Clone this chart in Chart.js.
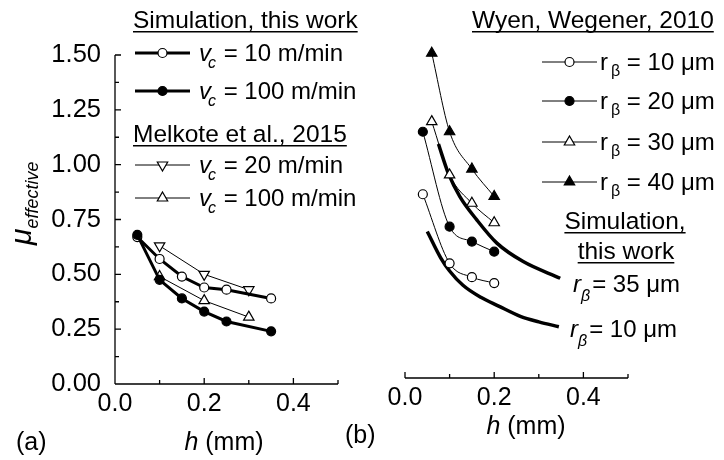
<!DOCTYPE html>
<html>
<head>
<meta charset="utf-8">
<script src="https://cdn.jsdelivr.net/npm/chart.js@4.4.1/dist/chart.umd.min.js"></script>
<style>
  body { margin: 0; background: #fff; }
  #wrap { position: relative; width: 724px; height: 460px; background: #fff; }
  canvas { position: absolute; top: 0; }
  #chartA { left: 0; }
  #chartB { left: 340px; }
</style>
</head>
<body>
<div id="wrap">
  <canvas id="chartA" width="370" height="460"></canvas>
  <canvas id="chartB" width="384" height="460"></canvas>
</div>
<script>
// ---- panel (a): simulation vs Melkote et al.
const hSim = [0.05, 0.10, 0.15, 0.20, 0.25, 0.35];
const muSim10 = [0.67, 0.57, 0.49, 0.44, 0.43, 0.39];
const muSim100 = [0.68, 0.475, 0.39, 0.33, 0.285, 0.24];
const hMelkote = [0.10, 0.20, 0.30];
const muMelkote20 = [0.63, 0.50, 0.43];
const muMelkote100 = [0.49, 0.38, 0.305];

// ---- panel (b): Wyen & Wegener vs simulation
const hWyenA = [0.04, 0.10, 0.15, 0.20];
const hWyenB = [0.06, 0.10, 0.15, 0.20];
const muWyen10 = [0.865, 0.55, 0.487, 0.46];
const muWyen20 = [1.15, 0.717, 0.649, 0.603];
const muWyen30 = [1.196, 0.953, 0.824, 0.735];
const muWyen40 = [1.508, 1.15, 0.98, 0.855];
const hSimR35 = [0.075, 0.097, 0.123, 0.161, 0.206, 0.265, 0.348];
const muSimR35 = [1.094, 0.961, 0.854, 0.748, 0.642, 0.558, 0.482];
const hSimR10 = [0.05, 0.08, 0.10, 0.13, 0.17, 0.21, 0.26, 0.30, 0.345];
const muSimR10 = [0.695, 0.575, 0.515, 0.45, 0.395, 0.355, 0.307, 0.283, 0.261];

// ---- axis ticks
const xLabelTicks = [0, 0.2, 0.4];
const xMinorTicks = [0.1, 0.3, 0.5];
const yLabelTicks = [0, 0.25, 0.5, 0.75, 1.0, 1.25, 1.5];
const yMinorTicks = [0.125, 0.375, 0.625, 0.875, 1.125, 1.375];

const FONT = 'Arial, "Liberation Sans", Helvetica, sans-serif';
Chart.defaults.font.family = FONT;
Chart.defaults.color = '#000';

function pts(xs, ys) {
    return xs.map((x, i) => ({ x: x, y: ys[i] }));
}

// draws a run of text pieces (italic / subscript) one after the other
function drawRich(ctx, x, y, parts) {
    let cx = x;
    parts.forEach(p => {
        ctx.font = (p.it ? 'italic ' : '') + (p.size || 24) + 'px ' + FONT;
        cx += (p.dx || 0);
        ctx.fillText(p.t, cx, y + (p.dy || 0));
        cx += ctx.measureText(p.t).width;
    });
    return cx;
}

function richWidth(ctx, parts) {
    let w = 0;
    parts.forEach(p => {
        ctx.font = (p.it ? 'italic ' : '') + (p.size || 24) + 'px ' + FONT;
        w += (p.dx || 0) + ctx.measureText(p.t).width;
    });
    return w;
}

function underlined(ctx, text, x, y, center) {
    ctx.font = '24.5px ' + FONT;
    const w = ctx.measureText(text).width;
    const x0 = center ? x - w / 2 : x;
    ctx.fillText(text, x0, y);
    ctx.fillRect(x0, y + 3, w, 1.5);
}

function drawMarker(ctx, style, x, y, r, filled, down) {
    ctx.beginPath();
    if (style === 'circle') {
        ctx.arc(x, y, r, 0, Math.PI * 2);
    } else {
        const d = down ? -1 : 1;
        ctx.moveTo(x, y - d * r);
        ctx.lineTo(x + r * 0.866, y + d * r * 0.5);
        ctx.lineTo(x - r * 0.866, y + d * r * 0.5);
        ctx.closePath();
    }
    ctx.fillStyle = filled ? '#000' : '#fff';
    ctx.fill();
    ctx.lineWidth = 1.2;
    ctx.strokeStyle = '#000';
    ctx.stroke();
    ctx.fillStyle = '#000';
}

function legendSample(ctx, x0, x1, y, lw, style, filled, down, r) {
    ctx.strokeStyle = '#000';
    ctx.lineWidth = lw;
    ctx.beginPath();
    ctx.moveTo(x0, y);
    ctx.lineTo(x1, y);
    ctx.stroke();
    drawMarker(ctx, style, (x0 + x1) / 2, y, r, filled, down);
}

// axis lines with inward ticks
const axesPlugin = {
    id: 'axesPlugin',
    beforeDatasetsDraw(chart, args, opts) {
        const ctx = chart.ctx, a = chart.chartArea;
        const xs = chart.scales.x, ys = chart.scales.y;
        ctx.save();
        ctx.strokeStyle = '#000';
        ctx.lineWidth = 1.3;
        ctx.beginPath();
        ctx.moveTo(a.left, a.bottom);
        ctx.lineTo(a.right, a.bottom);
        xLabelTicks.forEach(v => {
            const px = xs.getPixelForValue(v);
            ctx.moveTo(px, a.bottom);
            ctx.lineTo(px, a.bottom - 6);
        });
        xMinorTicks.forEach(v => {
            const px = xs.getPixelForValue(v);
            ctx.moveTo(px, a.bottom);
            ctx.lineTo(px, a.bottom - 4);
        });
        if (opts.yAxis) {
            ctx.moveTo(a.left, a.bottom);
            ctx.lineTo(a.left, a.top);
            yLabelTicks.forEach(v => {
                const py = ys.getPixelForValue(v);
                ctx.moveTo(a.left, py);
                ctx.lineTo(a.left + 6, py);
            });
            yMinorTicks.forEach(v => {
                const py = ys.getPixelForValue(v);
                ctx.moveTo(a.left, py);
                ctx.lineTo(a.left + 4, py);
            });
        }
        ctx.stroke();
        ctx.restore();
    },
    afterDraw(chart, args, opts) {
        const ctx = chart.ctx;
        ctx.save();
        ctx.translate(-opts.offsetX, 0);
        ctx.fillStyle = '#000';
        ctx.textBaseline = 'alphabetic';
        opts.extras(ctx);
        ctx.restore();
    }
};

function xAxisTitle(ctx, cx, y) {
    const parts = [{ t: 'h', it: true, size: 25 }, { t: ' (mm)', size: 25 }];
    drawRich(ctx, cx - richWidth(ctx, parts) / 2, y, parts);
}

function extrasA(ctx) {
    // y axis title
    ctx.save();
    ctx.translate(31, 245);
    ctx.rotate(-Math.PI / 2);
    drawRich(ctx, 0, 0, [{ t: 'μ', it: true, size: 30 }, { t: 'effective', it: true, size: 18, dy: 7 }]);
    ctx.restore();

    xAxisTitle(ctx, 224, 450);
    ctx.font = '25px ' + FONT;
    ctx.fillText('(a)', 16, 450);

    // legend
    const vc = (val) => [{ t: 'v', it: true }, { t: 'c', it: true, size: 16, dy: 7, dx: -3 }, { t: ' = ' + val + ' m/min', dx: 1 }];
    underlined(ctx, 'Simulation, this work', 133, 28);
    legendSample(ctx, 135, 190, 53, 3, 'circle', false, false, 4.5);
    drawRich(ctx, 199, 61, vc('10'));
    legendSample(ctx, 135, 190, 91, 3, 'circle', true, false, 4.5);
    drawRich(ctx, 199, 99, vc('100'));
    underlined(ctx, 'Melkote et al., 2015', 133, 142);
    legendSample(ctx, 135, 190, 165, 1, 'triangle', false, true, 6);
    drawRich(ctx, 199, 173, vc('20'));
    legendSample(ctx, 135, 190, 198, 1, 'triangle', false, false, 6);
    drawRich(ctx, 199, 206, vc('100'));
}

function extrasB(ctx) {
    xAxisTitle(ctx, 526, 434);
    ctx.font = '25px ' + FONT;
    ctx.fillText('(b)', 345, 443);

    const rb = (val) => [{ t: 'r' }, { t: 'β', size: 16, dy: 6, dx: 3 }, { t: ' = ' + val + ' μm', dx: 0 }];
    underlined(ctx, 'Wyen, Wegener, 2010', 472, 28);
    legendSample(ctx, 542, 597, 62, 1, 'circle', false, false, 4.5);
    drawRich(ctx, 600, 70, rb('10'));
    legendSample(ctx, 542, 597, 101, 1, 'circle', true, false, 4.5);
    drawRich(ctx, 600, 109, rb('20'));
    legendSample(ctx, 542, 597, 142, 1, 'triangle', false, false, 6);
    drawRich(ctx, 600, 150, rb('30'));
    legendSample(ctx, 542, 597, 182, 1, 'triangle', true, false, 6);
    drawRich(ctx, 600, 190, rb('40'));

    underlined(ctx, 'Simulation,', 625, 229, true);
    underlined(ctx, 'this work', 626, 259, true);
    const rbi = (val) => [{ t: 'r', it: true }, { t: 'β', it: true, size: 16, dy: 9, dx: 0 }, { t: '= ' + val + ' μm', dx: 2 }];
    drawRich(ctx, 573, 292, rbi('35'));
    drawRich(ctx, 570, 337, rbi('10'));
}

function xScale() {
    return {
        type: 'linear', min: 0, max: 0.5,
        grid: { display: false, drawTicks: false },
        border: { display: false },
        afterBuildTicks: s => { s.ticks = xLabelTicks.map(v => ({ value: v })); },
        ticks: { font: { size: 25 }, padding: 5, maxRotation: 0, callback: v => v.toFixed(1) }
    };
}

function series(xs, ys, lw, style, filled, down, r, curved, order) {
    return {
        data: pts(xs, ys),
        borderColor: '#000',
        borderWidth: lw,
        pointStyle: style,
        pointRotation: down ? 180 : 0,
        pointRadius: r,
        pointBorderWidth: 1.2,
        pointBorderColor: '#000',
        pointBackgroundColor: filled ? '#000' : '#fff',
        cubicInterpolationMode: curved ? 'monotone' : 'default',
        tension: 0,
        clip: false,
        order: order
    };
}

const baseOptions = {
    responsive: false,
    animation: false,
    events: [],
    plugins: { legend: { display: false }, tooltip: { enabled: false } }
};

// chart (a)
new Chart(document.getElementById('chartA'), {
    type: 'line',
    data: {
        datasets: [
            series(hSim, muSim100, 3, 'circle', true, false, 4.5, false, 0),
            series(hSim, muSim10, 3, 'circle', false, false, 4.5, false, 1),
            series(hMelkote, muMelkote100, 1, 'triangle', false, false, 6, false, 2),
            series(hMelkote, muMelkote20, 1, 'triangle', false, true, 6, false, 3)
        ]
    },
    options: Object.assign({}, baseOptions, {
        layout: { padding: { left: 0, top: 55, right: 32, bottom: 0 } },
        scales: {
            x: Object.assign(xScale(), { afterFit: s => { s.height = 76; } }),
            y: {
                type: 'linear', min: 0, max: 1.5,
                grid: { display: false, drawTicks: false },
                border: { display: false },
                afterBuildTicks: s => { s.ticks = yLabelTicks.map(v => ({ value: v })); },
                afterFit: s => { s.width = 115; },
                ticks: { font: { size: 25.5 }, padding: 14, callback: v => v.toFixed(2) }
            }
        },
        plugins: Object.assign({}, baseOptions.plugins, {
            axesPlugin: { yAxis: true, offsetX: 0, extras: extrasA }
        })
    }),
    plugins: [axesPlugin]
});

// chart (b)
new Chart(document.getElementById('chartB'), {
    type: 'line',
    data: {
        datasets: [
            series(hWyenB, muWyen40, 1, 'triangle', true, false, 6, true, 0),
            series(hWyenB, muWyen30, 1, 'triangle', false, false, 6, true, 1),
            series(hWyenA, muWyen20, 1, 'circle', true, false, 4.5, true, 2),
            series(hWyenA, muWyen10, 1, 'circle', false, false, 4.5, true, 3),
            series(hSimR35, muSimR35, 3.5, 'circle', false, false, 0, true, 4),
            series(hSimR10, muSimR10, 3.5, 'circle', false, false, 0, true, 5)
        ]
    },
    options: Object.assign({}, baseOptions, {
        layout: { padding: { left: 65, top: 55, right: 96, bottom: 0 } },
        scales: {
            x: Object.assign(xScale(), { afterFit: s => { s.height = 82; } }),
            y: { type: 'linear', min: 0.027, max: 1.5, display: false }
        },
        plugins: Object.assign({}, baseOptions.plugins, {
            axesPlugin: { yAxis: false, offsetX: 340, extras: extrasB }
        })
    }),
    plugins: [axesPlugin]
});
</script>
</body>
</html>
